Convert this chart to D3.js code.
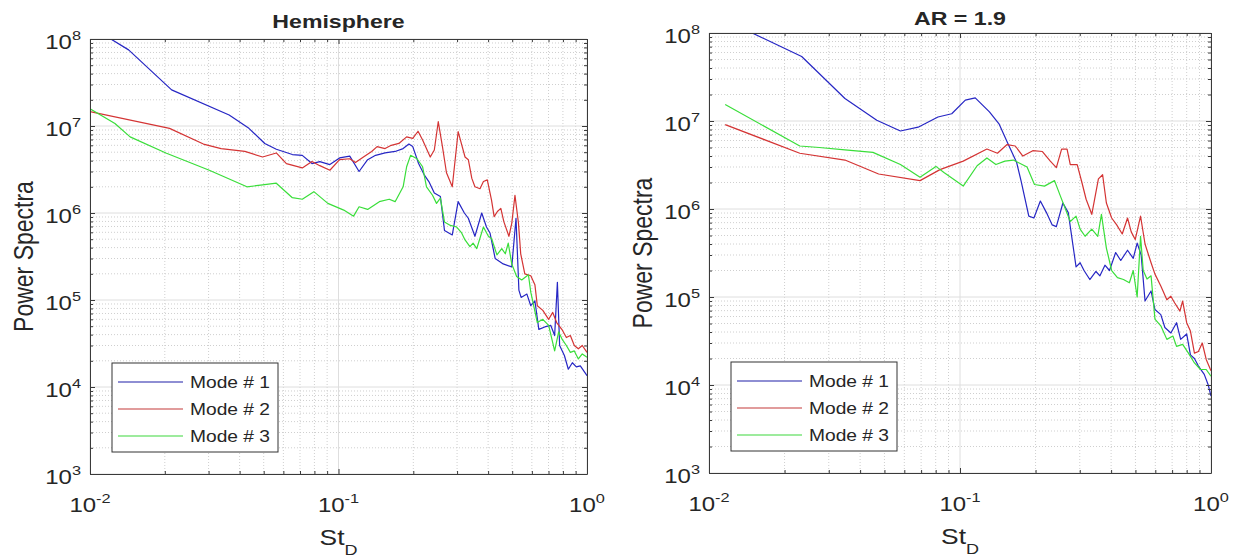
<!DOCTYPE html>
<html><head><meta charset="utf-8">
<script src="https://cdn.jsdelivr.net/npm/d3@7"></script>
<style>
body{margin:0;background:#fff;}
svg{display:block;}
text{font-family:"Liberation Sans",Arial,Helvetica,sans-serif;fill:#262626;}
</style>
</head><body>
<svg id="c" width="1238" height="558"></svg>
<script>
// ---- tick labels / text ----
const xTickValues = [0.01, 0.1, 1];
const xTickExponents = ["-2", "-1", "0"];
const yTickValues = [1e3, 1e4, 1e5, 1e6, 1e7, 1e8];
const yTickExponents = ["3", "4", "5", "6", "7", "8"];
const xDomain = [0.01, 1];
const yDomain = [1e3, 1e8];
const panelTitles = ["Hemisphere", "AR = 1.9"];
const legendLabels = ["Mode # 1", "Mode # 2", "Mode # 3"];
const xLabelBase = "St", xLabelSub = "D";
const yLabelText = "Power Spectra";

// ---- data: [St_D, power spectra] ----
const hemiMode1 = [[0.01,1.4e8],[0.0143,7.5e7],[0.0213,2.6e7],[0.0363,1.34e7],[0.0436,9.4e6],[0.0505,6.3e6],[0.0562,5.4e6],[0.0652,4.7e6],[0.0715,4.6e6],[0.0782,3.7e6],[0.0841,3.9e6],[0.0923,3.6e6],[0.101,4.3e6],[0.111,4.5e6],[0.121,3.0e6],[0.131,4.1e6],[0.141,4.6e6],[0.154,4.9e6],[0.169,5.1e6],[0.182,5.5e6],[0.192,6.2e6],[0.199,5.8e6],[0.210,3.7e6],[0.222,2.7e6],[0.231,2.3e6],[0.243,1.7e6],[0.257,1.55e6],[0.267,6.3e5],[0.287,5.6e5],[0.303,1.35e6],[0.321,1.0e6],[0.333,8.7e5],[0.354,5.4e5],[0.377,1.0e6],[0.394,6.9e5],[0.407,5.9e5],[0.427,3.0e5],[0.460,2.6e5],[0.498,2.4e5],[0.518,8.7e5],[0.532,1.3e5],[0.543,1.07e5],[0.573,1.17e5],[0.594,8.6e4],[0.617,9.8e4],[0.640,4.6e4],[0.676,4.9e4],[0.715,5.1e4],[0.741,3.9e4],[0.760,1.6e5],[0.776,3.0e4],[0.811,2.3e4],[0.841,1.6e4],[0.873,1.9e4],[0.906,1.7e4],[0.940,1.75e4],[0.975,1.5e4],[1.0,1.35e4]];
const hemiMode2 = [[0.01,1.46e7],[0.0209,9.4e6],[0.0286,6.2e6],[0.0337,5.5e6],[0.042,5.1e6],[0.0495,4.4e6],[0.0562,4.9e6],[0.0617,3.7e6],[0.0715,3.3e6],[0.0782,3.9e6],[0.0841,3.5e6],[0.0923,3.1e6],[0.101,4.1e6],[0.111,4.2e6],[0.117,3.8e6],[0.126,4.4e6],[0.136,5.1e6],[0.143,5.8e6],[0.154,5.5e6],[0.163,6.0e6],[0.175,6.3e6],[0.188,7.5e6],[0.199,7.2e6],[0.209,8.7e6],[0.218,6.9e6],[0.234,4.4e6],[0.243,5.3e6],[0.252,1.12e7],[0.262,5.8e6],[0.272,2.9e6],[0.287,2.0e6],[0.303,8.6e6],[0.323,4.4e6],[0.333,4.1e6],[0.344,2.5e6],[0.354,2.0e6],[0.371,1.9e6],[0.383,2.3e6],[0.397,2.4e6],[0.413,1.4e6],[0.423,9.1e5],[0.436,1.04e6],[0.450,1.13e6],[0.463,7.9e5],[0.485,5.4e5],[0.498,7.6e5],[0.513,1.6e6],[0.530,7.6e5],[0.541,3.4e5],[0.562,2.0e5],[0.594,1.9e5],[0.617,1.5e5],[0.631,8.6e4],[0.664,7.6e4],[0.701,6.0e4],[0.728,7.2e4],[0.755,5.5e4],[0.796,4.5e4],[0.826,3.7e4],[0.857,3.9e4],[0.889,3.0e4],[0.923,2.75e4],[0.957,3.0e4],[1.0,2.5e4]];
const hemiMode3 = [[0.01,1.58e7],[0.0126,1.07e7],[0.0145,7.5e6],[0.0202,4.9e6],[0.0302,3.1e6],[0.0428,2.0e6],[0.0495,2.1e6],[0.0562,2.2e6],[0.0652,1.5e6],[0.0715,1.44e6],[0.0796,1.76e6],[0.0906,1.29e6],[0.105,1.08e6],[0.115,9.2e5],[0.121,1.18e6],[0.131,1.1e6],[0.146,1.35e6],[0.160,1.44e6],[0.169,1.35e6],[0.182,2.0e6],[0.188,3.4e6],[0.195,4.6e6],[0.207,4.2e6],[0.218,3.4e6],[0.226,2.0e6],[0.239,1.6e6],[0.248,1.29e6],[0.257,1.48e6],[0.267,7.9e5],[0.282,7.2e5],[0.299,6.9e5],[0.313,5.9e5],[0.323,4.9e5],[0.338,4.1e5],[0.348,4.5e5],[0.360,3.9e5],[0.383,6.9e5],[0.401,5.4e5],[0.413,5.1e5],[0.434,3.3e5],[0.454,3.9e5],[0.469,3.4e5],[0.482,4.5e5],[0.498,2.6e5],[0.521,1.86e5],[0.546,1.7e5],[0.581,1.95e5],[0.594,1.23e5],[0.631,5.5e4],[0.664,6.0e4],[0.701,5.1e4],[0.741,2.6e4],[0.769,4.3e4],[0.796,3.5e4],[0.826,3.0e4],[0.857,2.5e4],[0.889,2.6e4],[0.923,2.1e4],[0.957,2.4e4],[1.0,2.2e4]];

const arMode1 = [[0.0116,1.4e8],[0.0234,5.4e7],[0.0348,1.8e7],[0.0466,1.02e7],[0.0579,7.7e6],[0.0681,8.5e6],[0.0817,1.11e7],[0.0927,1.21e7],[0.105,1.73e7],[0.115,1.83e7],[0.131,1.27e7],[0.143,9.3e6],[0.154,5.8e6],[0.168,3.4e6],[0.175,2.1e6],[0.188,8.3e5],[0.197,7.9e5],[0.209,1.23e6],[0.221,9.1e5],[0.233,6.6e5],[0.242,6.3e5],[0.257,1.17e6],[0.270,9.1e5],[0.290,2.2e5],[0.301,2.45e5],[0.312,2.0e5],[0.329,1.58e5],[0.348,1.95e5],[0.361,1.74e5],[0.378,2.3e5],[0.394,2.0e5],[0.417,3.2e5],[0.437,2.6e5],[0.465,3.4e5],[0.490,2.75e5],[0.508,4.1e5],[0.527,3.0e5],[0.546,9.0e4],[0.577,1.17e5],[0.598,7.2e4],[0.631,6.3e4],[0.655,4.5e4],[0.692,3.9e4],[0.729,5.1e4],[0.757,3.3e4],[0.800,3.8e4],[0.828,2.2e4],[0.859,2.0e4],[0.891,1.64e4],[0.940,1.32e4],[0.975,1.0e4],[1.0,7.5e3]];
const arMode2 = [[0.0116,9.1e6],[0.0230,4.3e6],[0.0348,3.6e6],[0.0474,2.5e6],[0.0693,2.1e6],[0.0832,2.8e6],[0.103,3.5e6],[0.128,4.8e6],[0.141,4.3e6],[0.154,5.4e6],[0.166,5.2e6],[0.178,4.0e6],[0.195,4.6e6],[0.213,4.5e6],[0.229,3.5e6],[0.242,2.95e6],[0.254,4.8e6],[0.267,4.8e6],[0.275,3.2e6],[0.293,3.2e6],[0.306,2.0e6],[0.318,1.29e6],[0.335,8.7e5],[0.356,2.2e6],[0.370,2.45e6],[0.383,1.17e6],[0.402,7.9e5],[0.421,6.6e5],[0.443,5.2e5],[0.465,7.9e5],[0.481,5.5e5],[0.499,4.5e5],[0.524,8.3e5],[0.546,4.0e5],[0.577,2.45e5],[0.598,1.82e5],[0.631,1.33e5],[0.667,9.3e4],[0.692,1.02e5],[0.716,8.6e4],[0.752,6.9e4],[0.771,9.0e4],[0.800,5.1e4],[0.828,4.1e4],[0.859,2.3e4],[0.891,2.4e4],[0.923,3.0e4],[0.957,1.95e4],[1.0,1.45e4]];
const arMode3 = [[0.0116,1.54e7],[0.0230,5.2e6],[0.0275,5.0e6],[0.0348,4.7e6],[0.045,4.4e6],[0.0579,3.2e6],[0.0693,2.3e6],[0.0802,3.05e6],[0.0863,2.6e6],[0.103,1.82e6],[0.117,3.1e6],[0.128,3.8e6],[0.139,3.2e6],[0.151,3.5e6],[0.163,3.6e6],[0.185,3.0e6],[0.198,1.9e6],[0.217,1.82e6],[0.238,2.1e6],[0.251,1.41e6],[0.275,7.2e5],[0.290,8.3e5],[0.301,5.9e5],[0.315,4.9e5],[0.335,5.9e5],[0.354,4.9e5],[0.366,8.7e5],[0.383,3.6e5],[0.402,2.0e5],[0.424,1.66e5],[0.448,1.58e5],[0.473,1.45e5],[0.490,2.0e5],[0.508,1.0e5],[0.524,4.9e5],[0.537,2.0e5],[0.556,1.6e5],[0.577,1.74e5],[0.598,5.6e4],[0.631,4.7e4],[0.667,3.3e4],[0.705,3.6e4],[0.729,2.75e4],[0.771,2.9e4],[0.813,2.3e4],[0.859,1.78e4],[0.908,1.5e4],[0.957,1.5e4],[1.0,1.26e4]];

const seriesColors = ["#2626c4", "#d43434", "#3ade3a"];
const legendColors = ["#1f1fa8", "#c43a3a", "#3cd83c"];

const panels = [
  {title: panelTitles[0], series: [hemiMode1, hemiMode2, hemiMode3], box: {l: 90, r: 587, t: 39, b: 474}, titleY: 28},
  {title: panelTitles[1], series: [arMode1, arMode2, arMode3], box: {l: 709, r: 1211, t: 33, b: 473}, titleY: 25}
];

const svg = d3.select("#c");
const SX = 1.2; // horizontal glyph stretch of the reference

function supLabel(g, x, y, base, exp, size, anchor, sx, expDy) {
  const t = g.append("g").attr("transform", `translate(${x},${y}) scale(${sx},1)`)
    .append("text").attr("text-anchor", anchor).attr("font-size", size);
  t.append("tspan").text(base);
  t.append("tspan").attr("font-size", size * 0.68).attr("dy", expDy).text(exp);
  return t;
}

const minorX = [];
[0.01, 0.1].forEach(d => { for (let k = 2; k <= 9; k++) minorX.push(d * k); });
const minorY = [];
[1e3, 1e4, 1e5, 1e6, 1e7].forEach(d => { for (let k = 2; k <= 9; k++) minorY.push(d * k); });

panels.forEach((p, pi) => {
  const {l, r, t, b} = p.box;
  const x = d3.scaleLog().domain(xDomain).range([l, r]);
  const y = d3.scaleLog().domain(yDomain).range([b, t]);
  const g = svg.append("g");

  // grid
  const grid = g.append("g");
  grid.selectAll(".mgx").data(minorX).join("line")
    .attr("x1", d => x(d)).attr("x2", d => x(d)).attr("y1", t).attr("y2", b)
    .attr("stroke", "#cfcfcf").attr("stroke-width", 1).attr("stroke-dasharray", "1,2");
  grid.selectAll(".mgy").data(minorY).join("line")
    .attr("y1", d => y(d)).attr("y2", d => y(d)).attr("x1", l).attr("x2", r)
    .attr("stroke", "#cfcfcf").attr("stroke-width", 1).attr("stroke-dasharray", "1,2");
  grid.selectAll(".Mgx").data(xTickValues).join("line")
    .attr("x1", d => x(d)).attr("x2", d => x(d)).attr("y1", t).attr("y2", b)
    .attr("stroke", "#dedede").attr("stroke-width", 1);
  grid.selectAll(".Mgy").data(yTickValues).join("line")
    .attr("y1", d => y(d)).attr("y2", d => y(d)).attr("x1", l).attr("x2", r)
    .attr("stroke", "#dedede").attr("stroke-width", 1);

  // lines
  const clipId = "clip" + pi;
  svg.append("defs").append("clipPath").attr("id", clipId)
    .append("rect").attr("x", l).attr("y", t).attr("width", r - l).attr("height", b - t);
  const line = d3.line().x(d => x(d[0])).y(d => y(d[1]));
  g.append("g").attr("clip-path", `url(#${clipId})`)
    .selectAll("path").data(p.series).join("path")
    .attr("d", line).attr("fill", "none")
    .attr("stroke", (d, i) => seriesColors[i]).attr("stroke-width", 1.2)
    .attr("stroke-linejoin", "round");

  // axes (inside ticks, box)
  const axisColor = "#3a3a3a";
  const mk = (axis, tr) => {
    const a = g.append("g").attr("transform", tr).call(axis);
    a.selectAll("text").remove();
    a.selectAll("path,line").attr("stroke", axisColor);
    return a;
  };
  mk(d3.axisBottom(x).tickValues(xTickValues).tickSize(-5).tickSizeOuter(0).tickFormat(""), `translate(0,${b})`);
  mk(d3.axisTop(x).tickValues(xTickValues).tickSize(-5).tickSizeOuter(0).tickFormat(""), `translate(0,${t})`);
  mk(d3.axisLeft(y).tickValues(yTickValues).tickSize(-5).tickSizeOuter(0).tickFormat(""), `translate(${l},0)`);
  mk(d3.axisRight(y).tickValues(yTickValues).tickSize(-5).tickSizeOuter(0).tickFormat(""), `translate(${r},0)`);
  [["b", d3.axisBottom(x), b], ["t", d3.axisTop(x), t]].forEach(([k, ax, pos]) => {
    const a = g.append("g").attr("transform", `translate(0,${pos})`)
      .call(ax.tickValues(minorX).tickSize(-3).tickSizeOuter(0).tickFormat(""));
    a.select(".domain").remove();
    a.selectAll("line").attr("stroke", axisColor);
  });
  [["l", d3.axisLeft(y), l], ["r", d3.axisRight(y), r]].forEach(([k, ax, pos]) => {
    const a = g.append("g").attr("transform", `translate(${pos},0)`)
      .call(ax.tickValues(minorY).tickSize(-3).tickSizeOuter(0).tickFormat(""));
    a.select(".domain").remove();
    a.selectAll("line").attr("stroke", axisColor);
  });

  // tick labels
  xTickValues.forEach((v, i) => supLabel(g, x(v), b + 38, "10", xTickExponents[i], 20, "middle", SX, -9));
  yTickValues.forEach((v, i) => supLabel(g, l - 9, y(v) + 10, "10", yTickExponents[i], 20, "end", SX, -9));

  // title
  g.append("g").attr("transform", `translate(${(l + r) / 2},${p.titleY}) scale(1.25,1)`)
    .append("text").attr("text-anchor", "middle").attr("font-size", 18.5).attr("font-weight", "bold")
    .attr("fill", "#000").text(p.title);

  // x label
  const xl = g.append("g").attr("transform", `translate(${(l + r) / 2},${b + 71}) scale(${SX},1)`)
    .append("text").attr("text-anchor", "middle").attr("font-size", 22);
  xl.append("tspan").text(xLabelBase);
  xl.append("tspan").attr("font-size", 15).attr("dy", 10).text(xLabelSub);

  // y label
  g.append("g").attr("transform", `translate(${l - 57},${(t + b) / 2}) rotate(-90) scale(1,1.2)`)
    .append("text").attr("text-anchor", "middle").attr("font-size", 23).text(yLabelText);

  // legend
  const lg = g.append("g").attr("transform", `translate(${l + 22},${b - 22 - 89})`);
  lg.append("rect").attr("width", 166).attr("height", 89).attr("fill", "#fff")
    .attr("stroke", "#333").attr("stroke-width", 1);
  legendLabels.forEach((lab, i) => {
    const ry = 19 + i * 27;
    lg.append("line").attr("x1", 6).attr("x2", 71).attr("y1", ry).attr("y2", ry)
      .attr("stroke", legendColors[i]).attr("stroke-width", 1.2);
    lg.append("g").attr("transform", `translate(78,${ry + 6}) scale(${SX},1)`)
      .append("text").attr("font-size", 16).attr("fill", "#1a1a1a").text(lab);
  });
});
</script>
</body></html>
